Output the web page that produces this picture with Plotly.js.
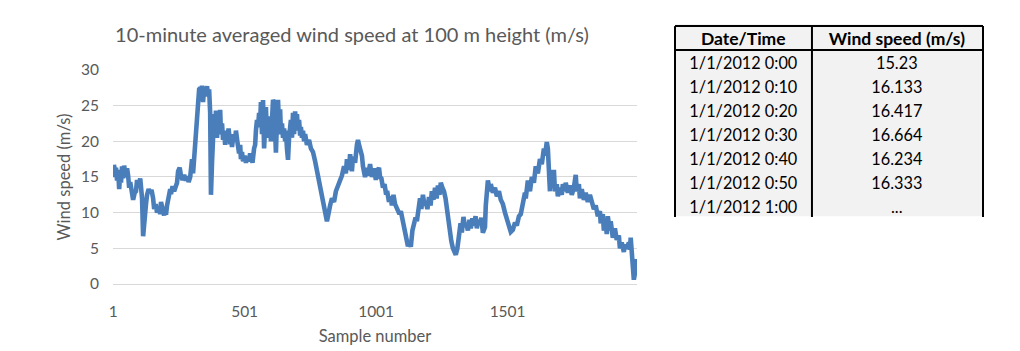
<!DOCTYPE html>
<html>
<head>
<meta charset="utf-8">
<script src="https://cdn.plot.ly/plotly-3.0.1.min.js"></script>
<style>
  html, body { margin: 0; padding: 0; background: #ffffff; }
  #chart { width: 1020px; height: 351px; }
</style>
</head>
<body>
<div id="chart"></div>
<script>
// ---- Data ----
const chartTitle = "10-minute averaged wind speed at 100 m height (m/s)";
const xAxisTitle = "Sample number";
const yAxisTitle = "Wind speed (m/s)";
const xTickValues = [1, 501, 1001, 1501];
const xTickLabels = ["1", "501", "1001", "1501"];

const sampleNumbers = [
  1, 2, 3, 4, 5, 6, 9, 12, 16, 20, 24, 28, 31, 35, 39, 43, 48, 54, 58, 62,
  66, 71, 77, 83, 88, 92, 98, 104, 107, 111, 115, 119, 123, 126, 130, 136, 142, 147, 153, 157,
  163, 168, 174, 180, 183, 189, 195, 199, 202, 206, 212, 218, 221, 227, 233, 239, 244, 248, 254, 259,
  265, 271, 277, 282, 288, 294, 297, 301, 305, 309, 313, 316, 320, 324, 328, 332, 335, 339, 343, 347,
  351, 354, 358, 362, 366, 370, 372, 373, 377, 381, 385, 389, 392, 396, 400, 404, 408, 411, 415, 419,
  423, 427, 430, 434, 440, 446, 449, 453, 459, 465, 468, 474, 480, 484, 487, 491, 495, 501, 506, 510,
  516, 522, 525, 531, 537, 541, 544, 548, 552, 556, 560, 563, 567, 571, 575, 579, 582, 586, 590, 594,
  598, 601, 605, 609, 613, 617, 620, 624, 628, 632, 636, 639, 643, 647, 651, 655, 658, 662, 666, 670,
  674, 677, 681, 685, 689, 693, 696, 700, 704, 708, 712, 715, 719, 723, 727, 731, 738, 746, 753, 761,
  769, 776, 784, 791, 799, 803, 807, 810, 814, 818, 822, 826, 833, 841, 848, 856, 864, 871, 879, 886,
  890, 898, 902, 909, 913, 921, 928, 932, 936, 940, 947, 951, 959, 966, 970, 978, 985, 993, 1000, 1008,
  1012, 1016, 1021, 1027, 1033, 1038, 1044, 1050, 1056, 1061, 1067, 1073, 1078, 1084, 1090, 1095, 1103, 1111, 1116, 1122,
  1128, 1133, 1139, 1145, 1151, 1156, 1162, 1168, 1173, 1179, 1185, 1190, 1196, 1202, 1208, 1213, 1219, 1225, 1231, 1236,
  1242, 1247, 1253, 1259, 1265, 1270, 1276, 1282, 1287, 1293, 1299, 1304, 1310, 1316, 1322, 1327, 1333, 1339, 1344, 1350,
  1356, 1361, 1367, 1373, 1379, 1384, 1390, 1396, 1401, 1407, 1415, 1418, 1422, 1426, 1434, 1437, 1445, 1453, 1460, 1468,
  1475, 1483, 1491, 1498, 1506, 1513, 1521, 1529, 1536, 1544, 1551, 1559, 1567, 1570, 1578, 1586, 1593, 1601, 1608, 1616,
  1624, 1631, 1639, 1643, 1650, 1654, 1658, 1662, 1665, 1669, 1673, 1677, 1681, 1688, 1692, 1700, 1707, 1711, 1719, 1722,
  1730, 1738, 1745, 1753, 1760, 1764, 1772, 1776, 1783, 1791, 1798, 1806, 1814, 1821, 1829, 1836, 1844, 1852, 1855, 1863,
  1867, 1874, 1878, 1882, 1890, 1893, 1901, 1909, 1916, 1924, 1928, 1935, 1943, 1947, 1954, 1962, 1966, 1969, 1973, 1977,
  1981, 1985, 1988, 1992
];

const windSpeeds = [
  15.23, 16.133, 16.417, 16.664, 16.234, 16.333, 15.0, 16.3, 14.5, 16.0, 13.3, 15.5, 14.2, 16.5, 14.8, 16.6, 15.0, 16.2, 15.2, 13.5,
  14.3, 12.5, 11.8, 12.8, 13.0, 14.6, 13.5, 14.8, 13.8, 12.0, 6.7, 9.0, 10.5, 11.2, 12.5, 13.3, 12.8, 13.2, 12.0, 10.5,
  11.2, 10.0, 10.8, 9.8, 11.5, 10.2, 9.6, 10.8, 9.7, 11.0, 12.5, 13.3, 12.6, 13.7, 13.0, 14.0, 14.2, 15.8, 16.3, 15.2,
  14.6, 15.3, 14.5, 15.1, 14.3, 15.0, 16.0, 17.5, 15.5, 17.8, 19.5, 21.5, 23.5, 26.0, 27.3, 27.5, 26.5, 27.8, 25.5, 27.6,
  26.3, 27.2, 27.7, 26.5, 27.3, 24.0, 18.0, 12.5, 17.0, 22.5, 23.8, 21.5, 24.3, 20.5, 23.0, 22.0, 24.4, 21.0, 22.5, 20.2,
  21.5, 19.5, 21.2, 20.0, 21.8, 19.6, 20.8, 19.2, 21.0, 20.3, 21.5, 19.8, 18.3, 19.5, 17.5, 18.5, 17.2, 18.0, 17.0, 17.8,
  17.2, 18.3, 17.5, 17.0, 19.0, 19.5, 21.5, 23.0, 22.0, 24.0, 22.5, 25.5, 21.0, 25.8, 19.0, 22.5, 24.8, 20.5, 23.5, 21.8,
  22.5, 20.0, 24.0, 25.8, 25.5, 21.5, 18.4, 23.0, 25.8, 22.0, 24.5, 21.0, 22.5, 20.5, 21.8, 20.0, 21.5, 19.0, 17.4, 20.5,
  22.0, 23.0, 20.5, 24.0, 21.0, 24.2, 22.5, 23.8, 21.5, 23.0, 20.8, 22.0, 20.5, 21.5, 20.0, 21.0, 19.5, 20.2, 19.0, 18.5,
  17.2, 15.8, 14.5, 13.0, 12.0, 11.0, 10.2, 9.0, 8.8, 9.5, 10.5, 11.0, 12.0, 11.5, 13.0, 13.8, 14.5, 15.2, 16.5, 15.5,
  17.5, 16.0, 18.2, 15.8, 17.8, 17.0, 19.5, 20.2, 19.5, 18.8, 18.0, 16.5, 15.0, 16.3, 15.2, 16.8, 15.0, 16.2, 14.6, 16.0,
  16.3, 15.0, 14.8, 13.5, 14.0, 12.8, 12.8, 11.5, 12.3, 11.0, 12.5, 11.2, 10.8, 10.5, 9.8, 10.2, 8.8, 7.5, 6.5, 5.3,
  5.8, 5.2, 7.5, 8.3, 9.3, 8.8, 10.0, 12.0, 10.5, 12.5, 11.0, 11.5, 10.5, 12.2, 11.0, 13.0, 11.8, 13.5, 12.0, 13.8,
  12.5, 14.2, 13.5, 13.0, 12.0, 10.5, 9.0, 7.5, 6.0, 5.0, 4.6, 4.1, 5.0, 6.5, 8.5, 7.2, 9.4, 8.0, 8.5, 7.5,
  9.0, 7.8, 9.2, 8.2, 9.5, 7.8, 9.0, 8.5, 9.3, 7.2, 8.0, 11.0, 14.0, 14.5, 13.0, 14.0, 12.8, 13.5, 12.3, 13.0,
  11.8, 11.2, 10.0, 9.0, 8.0, 7.3, 7.6, 8.6, 8.2, 9.5, 9.8, 11.0, 12.8, 12.0, 14.5, 13.0, 15.0, 14.2, 16.5, 15.5,
  17.5, 16.8, 19.0, 18.0, 19.9, 19.0, 15.0, 13.0, 16.0, 13.5, 14.5, 16.0, 13.0, 14.0, 12.3, 13.5, 12.5, 14.0, 13.0, 14.2,
  12.8, 13.8, 12.5, 13.5, 15.3, 13.0, 14.0, 12.0, 13.3, 11.8, 12.8, 11.5, 12.5, 11.2, 10.5, 11.0, 9.5, 10.2, 8.5, 9.8,
  7.5, 8.5, 7.0, 9.5, 7.5, 8.8, 6.5, 7.8, 6.2, 6.8, 5.0, 5.8, 4.5, 5.5, 5.0, 5.8, 4.8, 6.5, 4.0, 2.5,
  0.6, 1.5, 3.0, 3.5
];

// Table shown to the right of the chart
const tableHeaders = ["Date/Time", "Wind speed (m/s)"];
const tableDateTimes = ["1/1/2012 0:00", "1/1/2012 0:10", "1/1/2012 0:20", "1/1/2012 0:30", "1/1/2012 0:40", "1/1/2012 0:50", "1/1/2012 1:00"];
const tableWindSpeeds = ["15.23", "16.133", "16.417", "16.664", "16.234", "16.333", "..."];

// ---- Styling ----
const FONT = "Lato, 'Open Sans', sans-serif";
const GREY_TEXT = "#595959";
const LINE_BLUE = "#4a7ebb";
const TABLE_FILL = "#f2f2f2";

const lineTrace = {
  type: "scatter",
  mode: "lines",
  x: sampleNumbers,
  y: windSpeeds,
  line: { color: LINE_BLUE, width: 4.6 },
  hoverinfo: "skip",
  showlegend: false,
  xaxis: "x",
  yaxis: "y"
};

const tableTrace = {
  type: "table",
  domain: { x: [0.646, 1.0], y: [0.2577, 0.999] },
  columnwidth: [137, 171],
  header: {
    values: tableHeaders,
    align: "center",
    height: 25,
    fill: { color: TABLE_FILL },
    line: { color: TABLE_FILL, width: 0 },
    font: { family: FONT, size: 17.5, color: "#000000", weight: "bold" }
  },
  cells: {
    values: [tableDateTimes, tableWindSpeeds],
    align: "center",
    height: 24,
    fill: { color: TABLE_FILL },
    line: { color: TABLE_FILL, width: 0 },
    font: { family: FONT, size: 16.3, color: "#000000" }
  }
};

// table frame (layout decoration in paper coordinates)
const frameLine = { color: "#000000", width: 2 };
const tableX0 = 0.646, tableXDiv = 0.8034, tableX1 = 1.0;
const tableYTop = 0.992, tableYHead = 0.9, tableYBot = 0.2577;
const shapes = [
  { type: "line", xref: "paper", yref: "paper", x0: tableX0, x1: tableX1, y0: tableYTop, y1: tableYTop, line: frameLine },
  { type: "line", xref: "paper", yref: "paper", x0: tableX0, x1: tableX1, y0: tableYHead, y1: tableYHead, line: frameLine },
  { type: "line", xref: "paper", yref: "paper", x0: tableX0, x1: tableX0, y0: tableYTop, y1: tableYBot, line: frameLine },
  { type: "line", xref: "paper", yref: "paper", x0: tableXDiv, x1: tableXDiv, y0: tableYTop, y1: tableYBot, line: frameLine },
  { type: "line", xref: "paper", yref: "paper", x0: tableX1, x1: tableX1, y0: tableYTop, y1: tableYBot, line: frameLine }
];

const layout = {
  width: 1020,
  height: 351,
  margin: { l: 113, r: 37, t: 24, b: 67, pad: 0 },
  paper_bgcolor: "#ffffff",
  plot_bgcolor: "#ffffff",
  font: { family: FONT, color: GREY_TEXT },
  title: {
    text: chartTitle,
    font: { family: FONT, size: 20, color: GREY_TEXT },
    xref: "container", yref: "container",
    x: 0.345, xanchor: "center",
    y: 0.9, yanchor: "middle"
  },
  xaxis: {
    domain: [0, 0.6023],
    range: [0.5, 1993],
    tickmode: "array",
    tickvals: xTickValues,
    ticktext: xTickLabels,
    showgrid: false,
    zeroline: false,
    showline: false,
    ticks: "",
    ticklabelstandoff: 16,
    tickfont: { family: FONT, size: 15.5, color: GREY_TEXT },
    title: { text: xAxisTitle, font: { family: FONT, size: 16.5, color: GREY_TEXT }, standoff: 11 },
    fixedrange: true
  },
  yaxis: {
    domain: [0, 0.8231],
    range: [0, 30],
    tickmode: "linear",
    tick0: 0,
    dtick: 5,
    showgrid: true,
    gridcolor: "#d9d9d9",
    gridwidth: 1,
    zeroline: true,
    zerolinecolor: "#d9d9d9",
    zerolinewidth: 1,
    showline: false,
    ticks: "",
    ticklabelstandoff: 13,
    tickfont: { family: FONT, size: 15.5, color: GREY_TEXT },
    title: { text: yAxisTitle, font: { family: FONT, size: 16.5, color: GREY_TEXT }, standoff: 6 },
    fixedrange: true
  },
  shapes: shapes
};

Plotly.newPlot("chart", [lineTrace, tableTrace], layout, { staticPlot: true, displayModeBar: false });
</script>
</body>
</html>
